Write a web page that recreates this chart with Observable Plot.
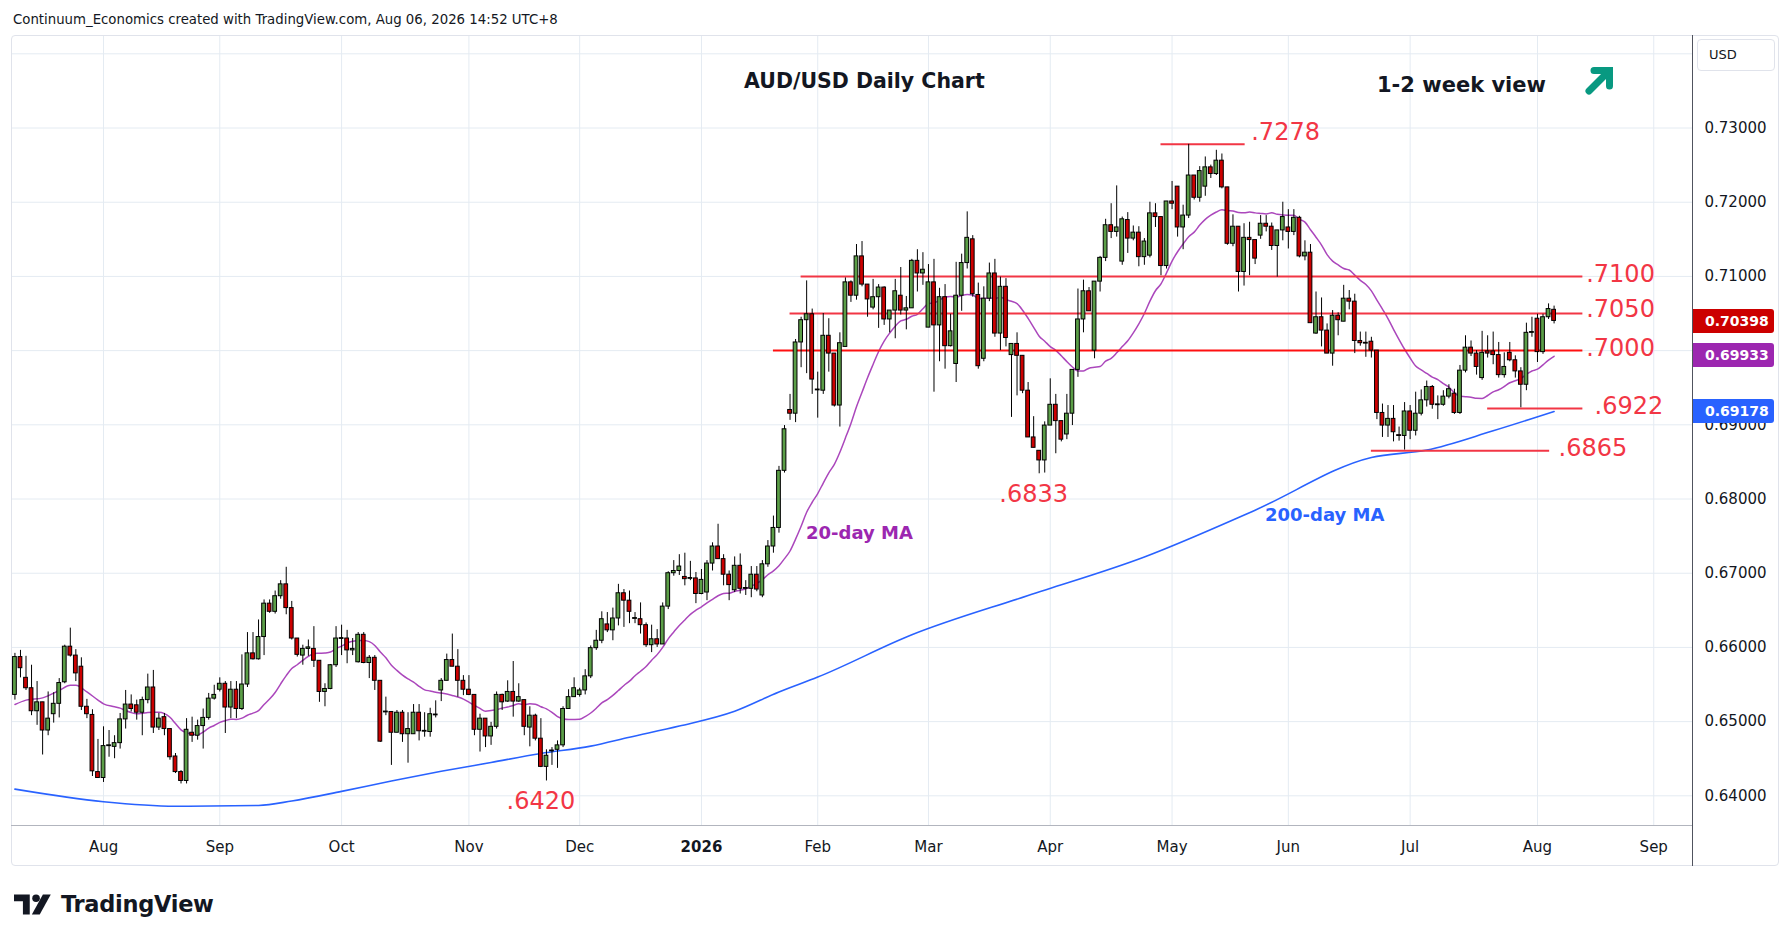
<!DOCTYPE html>
<html>
<head>
<meta charset="utf-8">
<script src="https://cdn.jsdelivr.net/npm/d3@7"></script>
<script src="https://cdn.jsdelivr.net/npm/@observablehq/plot@0.6"></script>
<style>
  html,body{margin:0;padding:0;background:#fff;}
  body{width:1792px;height:942px;position:relative;overflow:hidden;font-family:"DejaVu Sans",sans-serif;color:#131722;}
  .abs{position:absolute;white-space:nowrap;}
  #frame{position:absolute;left:11px;top:35px;width:1768px;height:831px;border:1px solid #e0e3eb;border-radius:4px;box-sizing:border-box;pointer-events:none;}
  .tag{position:absolute;left:1693px;width:81px;height:24px;color:#fff;font-weight:bold;font-size:14px;line-height:24px;padding-left:12px;box-sizing:border-box;border-radius:0 3px 3px 0;}
</style>
</head>
<body>
<div id="chart" class="abs" style="left:0;top:0"></div>
<div id="frame"></div>
<div class="abs" style="left:11px;top:825px;width:1681px;height:1px;background:#b2b5be"></div>
<div class="abs" style="left:1692px;top:35px;width:1px;height:831px;background:#50535e"></div>
<div class="abs" style="left:13px;top:11px;font-size:13.3px;line-height:17px;">Continuum_Economics created with TradingView.com, Aug 06, 2026 14:52 UTC+8</div>
<div class="abs" style="left:744px;top:66px;font-size:20.5px;line-height:30px;font-weight:bold;">AUD/USD Daily Chart</div>
<div class="abs" style="left:1377px;top:70px;font-size:21px;line-height:30px;font-weight:bold;">1-2 week view</div>
<svg class="abs" style="left:1583px;top:63px" width="34" height="34" viewBox="0 0 34 34">
  <path d="M6 28 L26 8" stroke="#089981" stroke-width="7" stroke-linecap="round" fill="none"/>
  <path d="M11 7.5 H26.5 V23" stroke="#089981" stroke-width="7" stroke-linecap="round" stroke-linejoin="miter" fill="none"/>
</svg>
<div class="abs" style="left:806px;top:520px;font-size:18px;line-height:26px;font-weight:bold;color:#9c27b0;">20-day MA</div>
<div class="abs" style="left:1265px;top:502px;font-size:18px;line-height:26px;font-weight:bold;color:#2962ff;">200-day MA</div>
<div class="abs" style="left:1697px;top:39px;width:78px;height:32px;border:1px solid #e0e3eb;border-radius:4px;box-sizing:border-box;font-size:13px;line-height:30px;padding-left:11px;">USD</div>
<div id="tags"></div>
<div class="abs" style="left:14px;top:891px;height:28px;">
  <svg width="42" height="26" viewBox="0 0 40 24" style="position:absolute;left:0;top:1px">
    <path d="M0 2 H15 V21 H8.5 V8.5 H0 Z" fill="#131722"/>
    <circle cx="21" cy="5.5" r="3.6" fill="#131722"/>
    <path d="M17 21 L27.5 2 H35 L24.5 21 Z" fill="#131722"/>
  </svg>
  <div style="position:absolute;left:47px;top:-1px;font-size:22.5px;font-weight:bold;line-height:28px;letter-spacing:-0.3px;">TradingView</div>
</div>
<script>
// ---------- DATA ----------
const startDate = "2025-07-10";            // first bar shown (index -16)
const firstIndex = -16;                    // bar index of first candle (Aug 1 2025 = 0)
const holidays = ["2025-12-25", "2026-01-01"];
const monthLabels = ["Aug","Sep","Oct","Nov","Dec","2026","Feb","Mar","Apr","May","Jun","Jul","Aug","Sep"];

const opens = [
 .6536,.6587,.6559,.6545,.6514,.6526,.6488,.6510,.6524,.6553,
 .6601,.6589,.6574,.6520,.6509,.6432,.6424,.6467,.6466,.6471,
 .6503,.6523,.6522,.6512,.6529,.6546,.6492,.6506,.6490,.6453,
 .6432,.6420,.6485,.6481,.6494,.6505,.6531,.6543,.6551,.6519,
 .6543,.6517,.6550,.6592,.6584,.6614,.6659,.6648,.6669,.6685,
 .6653,.6612,.6589,.6598,.6598,.6582,.6540,.6544,.6576,.6612,
 .6612,.6596,.6580,.6617,.6579,.6586,.6555,.6513,.6513,.6485,
 .6512,.6483,.6483,.6512,.6487,.6486,.6509,.6542,.6555,.6583,
 .6574,.6555,.6543,.6536,.6489,.6504,.6480,.6493,.6536,.6527,
 .6540,.6527,.6529,.6492,.6508,.6477,.6439,.6460,.6462,.6468,
 .6517,.6533,.6536,.6542,.6561,.6599,.6609,.6631,.6623,.6639,
 .6673,.6663,.6639,.6638,.6630,.6603,.6611,.6604,.6655,.6700,
 .6703,.6695,.6693,.6693,.6672,.6674,.6713,.6736,.6719,.6698,
 .6677,.6710,.6679,.6679,.6698,.6670,.6712,.6736,.6761,.6838,
 .6920,.6915,.7011,.7041,.7049,.6947,.6946,.7020,.6996,.6926,
 .7005,.7092,.7074,.7127,.7089,.7058,.7072,.7085,.7042,.7054,
 .7074,.7054,.7057,.7121,.7104,.7031,.7092,.7034,.7072,.7006,
 .6982,.7074,.7118,.7150,.7075,.6989,.7070,.7104,.7023,.7086,
 .6994,.7009,.6993,.6946,.6883,.6865,.6852,.6899,.6927,.6905,
 .6887,.6915,.6974,.7042,.7080,.7000,.7093,.7125,.7169,.7160,
 .7120,.7176,.7151,.7159,.7126,.7128,.7185,.7180,.7114,.7201,
 .7221,.7166,.7182,.7236,.7206,.7221,.7247,.7238,.7256,.7220,
 .7144,.7167,.7106,.7152,.7149,.7155,.7171,.7167,.7141,.7162,
 .7166,.7160,.7179,.7127,.7132,.7023,.7045,.7027,.6996,.7047,
 .7039,.7070,.7066,.7013,.7010,.7012,.7000,.6916,.6899,.6908,
 .6886,.6885,.6918,.6892,.6915,.6933,.6951,.6927,.6927,.6938,
 .6942,.6916,.6973,.7004,.6996,.6963,.6999,.6999,.6994,.6967,
 .6997,.6987,.6972,.6954,.7024,.7043,.6998,.7045,.7055
];
const highs = [
 .6592,.6596,.6588,.6576,.6554,.6526,.6540,.6539,.6558,.6603,
 .6626,.6597,.6586,.6530,.6516,.6476,.6493,.6488,.6481,.6511,
 .6542,.6536,.6529,.6533,.6564,.6569,.6511,.6511,.6490,.6457,
 .6434,.6504,.6506,.6502,.6517,.6538,.6549,.6559,.6554,.6554,
 .6554,.6590,.6620,.6620,.6637,.6664,.6664,.6676,.6690,.6708,
 .6662,.6612,.6603,.6610,.6628,.6582,.6551,.6577,.6628,.6630,
 .6623,.6612,.6620,.6620,.6589,.6589,.6555,.6533,.6513,.6515,
 .6515,.6512,.6523,.6523,.6512,.6518,.6528,.6558,.6591,.6618,
 .6597,.6562,.6562,.6536,.6510,.6504,.6499,.6540,.6537,.6555,
 .6581,.6551,.6529,.6520,.6510,.6504,.6462,.6465,.6474,.6520,
 .6543,.6559,.6545,.6570,.6602,.6623,.6648,.6647,.6653,.6685,
 .6678,.6676,.6647,.6660,.6633,.6630,.6624,.6660,.6702,.6717,
 .6725,.6727,.6716,.6701,.6705,.6717,.6741,.6766,.6725,.6703,
 .6722,.6726,.6690,.6709,.6709,.6717,.6744,.6777,.6844,.6899,
 .6941,.7015,.7045,.7094,.7056,.6971,.7050,.7043,.6996,.7024,
 .7098,.7094,.7143,.7147,.7089,.7096,.7089,.7086,.7054,.7096,
 .7112,.7073,.7123,.7136,.7132,.7116,.7123,.7084,.7089,.7049,
 .7119,.7130,.7187,.7155,.7091,.7086,.7118,.7123,.7099,.7097,
 .7009,.7024,.6993,.6957,.6911,.6865,.6904,.6962,.6941,.6905,
 .6941,.6974,.7083,.7095,.7085,.7093,.7127,.7177,.7198,.7222,
 .7180,.7186,.7168,.7167,.7151,.7200,.7198,.7180,.7201,.7228,
 .7221,.7196,.7278,.7236,.7248,.7261,.7250,.7270,.7265,.7220,
 .7183,.7167,.7171,.7173,.7149,.7182,.7182,.7172,.7162,.7200,
 .7190,.7190,.7181,.7148,.7143,.7079,.7071,.7036,.7054,.7051,
 .7088,.7081,.7076,.7025,.7025,.7018,.7000,.6928,.6926,.6926,
 .6897,.6930,.6926,.6944,.6947,.6959,.6953,.6939,.6946,.6954,
 .6948,.6980,.7020,.7013,.7000,.7026,.7020,.7025,.7011,.6997,
 .7011,.6993,.6977,.7037,.7045,.7049,.7049,.7063,.7060
];
const lows = [
 .6529,.6559,.6542,.6508,.6495,.6455,.6481,.6498,.6505,.6551,
 .6587,.6554,.6515,.6504,.6426,.6424,.6418,.6452,.6450,.6463,
 .6490,.6513,.6502,.6481,.6524,.6484,.6488,.6481,.6448,.6430,
 .6416,.6416,.6472,.6475,.6463,.6502,.6529,.6540,.6484,.6504,
 .6504,.6515,.6546,.6583,.6583,.6589,.6646,.6645,.6665,.6644,
 .6610,.6587,.6576,.6588,.6573,.6526,.6520,.6543,.6573,.6589,
 .6578,.6589,.6579,.6578,.6558,.6542,.6472,.6508,.6441,.6485,
 .6472,.6444,.6483,.6474,.6479,.6479,.6505,.6527,.6555,.6574,
 .6533,.6535,.6535,.6481,.6459,.6465,.6468,.6490,.6515,.6526,
 .6506,.6526,.6481,.6466,.6474,.6438,.6420,.6441,.6437,.6465,
 .6517,.6533,.6533,.6536,.6558,.6596,.6605,.6620,.6609,.6629,
 .6627,.6632,.6632,.6618,.6600,.6593,.6600,.6604,.6651,.6696,
 .6697,.6683,.6690,.6659,.6671,.6663,.6703,.6719,.6683,.6663,
 .6674,.6672,.6670,.6667,.6675,.6667,.6708,.6727,.6754,.6835,
 .6906,.6903,.6977,.6969,.6941,.6909,.6941,.6971,.6924,.6897,
 .7005,.7065,.7068,.7086,.7045,.7055,.7030,.7034,.7024,.7016,
 .7048,.7028,.7057,.7079,.7088,.7031,.6944,.6985,.6975,.7005,
 .6957,.7053,.7110,.7072,.6975,.6985,.7066,.7018,.7000,.7005,
 .6910,.6939,.6942,.6883,.6869,.6834,.6835,.6899,.6861,.6877,
 .6880,.6899,.6964,.7024,.7053,.6989,.7079,.7120,.7151,.7153,
 .7115,.7131,.7148,.7113,.7115,.7125,.7166,.7101,.7110,.7190,
 .7153,.7136,.7178,.7203,.7200,.7208,.7232,.7236,.7218,.7142,
 .7140,.7079,.7087,.7101,.7116,.7150,.7160,.7135,.7099,.7148,
 .7137,.7155,.7125,.7121,.7037,.7022,.7005,.6996,.6979,.7020,
 .7039,.7055,.6996,.7006,.6991,.6990,.6907,.6883,.6883,.6877,
 .6878,.6866,.6880,.6885,.6912,.6924,.6921,.6907,.6925,.6935,
 .6914,.6914,.6970,.6992,.6967,.6960,.6990,.6981,.6963,.6963,
 .6985,.6963,.6923,.6946,.7018,.6984,.6995,.7042,.7036
];
const closes = [
 .6587,.6572,.6545,.6514,.6526,.6488,.6504,.6524,.6552,.6601,
 .6589,.6565,.6520,.6510,.6433,.6424,.6467,.6468,.6471,.6503,
 .6523,.6517,.6512,.6529,.6546,.6492,.6504,.6490,.6452,.6432,
 .6420,.6489,.6481,.6494,.6505,.6531,.6536,.6551,.6519,.6543,
 .6517,.6550,.6592,.6584,.6614,.6659,.6648,.6669,.6685,.6653,
 .6612,.6590,.6598,.6600,.6582,.6540,.6544,.6576,.6612,.6612,
 .6596,.6598,.6617,.6579,.6586,.6555,.6473,.6513,.6485,.6512,
 .6483,.6490,.6512,.6487,.6487,.6510,.6509,.6555,.6583,.6574,
 .6555,.6543,.6536,.6489,.6504,.6480,.6493,.6536,.6526,.6540,
 .6527,.6533,.6493,.6508,.6477,.6439,.6454,.6461,.6468,.6517,
 .6533,.6545,.6542,.6561,.6599,.6609,.6638,.6623,.6639,.6673,
 .6663,.6648,.6639,.6630,.6603,.6611,.6604,.6655,.6700,.6703,
 .6709,.6692,.6693,.6672,.6691,.6713,.6736,.6719,.6698,.6684,
 .6710,.6679,.6680,.6698,.6678,.6712,.6736,.6761,.6838,.6894,
 .6915,.7011,.7041,.7049,.6961,.6947,.7020,.6996,.6926,.7010,
 .7092,.7074,.7127,.7089,.7069,.7072,.7085,.7042,.7054,.7080,
 .7054,.7057,.7121,.7104,.7109,.7092,.7034,.7072,.7006,.7026,
 .7074,.7118,.7152,.7076,.6979,.7070,.7104,.7023,.7086,.7017,
 .7009,.6993,.6946,.6883,.6869,.6852,.6899,.6927,.6905,.6880,
 .6915,.6974,.7042,.7080,.7053,.7093,.7125,.7169,.7160,.7166,
 .7177,.7151,.7159,.7126,.7147,.7185,.7180,.7114,.7201,.7198,
 .7166,.7182,.7236,.7206,.7242,.7247,.7238,.7256,.7220,.7144,
 .7167,.7106,.7152,.7149,.7124,.7171,.7167,.7141,.7162,.7180,
 .7160,.7179,.7127,.7132,.7037,.7045,.7027,.6996,.7047,.7041,
 .7070,.7066,.7013,.7010,.7010,.7000,.6916,.6899,.6908,.6890,
 .6885,.6918,.6892,.6915,.6933,.6951,.6927,.6927,.6938,.6948,
 .6916,.6973,.7004,.6996,.6978,.6997,.6996,.6994,.6967,.6978,
 .6987,.6972,.6954,.7024,.7025,.6998,.7045,.7056,.7040
];

// 20-day MA values for bars before enough closes exist
const maEarlyIdx = [-16, -14, -11, -8, -6, -5, -3, -1, 0, 2];
const maEarlyVal = [.6523, .6529, .6532, .6542, .6549, .6549, .6540, .6529, .6524, .6520];

// 200-day MA
const ma200Idx = [-16, 0, 13, 28, 34, 43, 52, 61, 70, 79, 88, 95, 104, 114, 122, 129, 146, 167, 188, 208, 229, 239, 251, 262];
const ma200Val = [.6409, .6392, .6386, .6387, .6393, .6406, .6420, .6433, .6445, .6457, .6467, .6479, .6494, .6514, .6540, .6560, .6617, .6670, .6722, .6785, .6856, .6866, .6892, .6918];

// Key levels
const levelValues = [0.7278, 0.7100, 0.7050, 0.7000, 0.6922, 0.6865];
const levelLabels = [".7278", ".7100", ".7050", ".7000", ".6922", ".6865"];
const lowValues = [0.6833, 0.6420];
const lowLabels = [".6833", ".6420"];
const lowBars = [169, 80];

// Price tags on the right axis
const tagValues = [0.70398, 0.69933, 0.69178];
const tagLabels = ["0.70398", "0.69933", "0.69178"];

// axis labels visible on the price scale (0.70000 sits under the price tags)
const yTickValues = [0.64, 0.65, 0.66, 0.67, 0.68, 0.69, 0.71, 0.72, 0.73];
const yGridValues = [0.64, 0.65, 0.66, 0.67, 0.68, 0.69, 0.70, 0.71, 0.72, 0.73, 0.74];

// ---------- LAYOUT (positions / styles) ----------
const levelLayout = [
  {from: 191, to: 206.2, at: 207.3, dy: -12, color: "#f23645"},
  {from: 126, to: 267.2, at: 267.8, dy: -2, color: "#f23645"},
  {from: 124, to: 267.2, at: 267.8, dy: -4, color: "#f23645"},
  {from: 121, to: 267.2, at: 267.8, dy: -2, color: "#ff1010"},
  {from: 250, to: 267.2, at: 269.3, dy: -2, color: "#f23645"},
  {from: 229, to: 261.2, at: 262.8, dy: -2, color: "#f23645"}
];
const tagColors = ["#cc0000", "#9c27b0", "#2962ff"];
const GREEN = "#5b9e47", RED = "#cc0000", LABEL_RED = "#f23645";

// ---------- BUILD ----------
function calendar(start, end, skip) {
  const out = [];
  const stop = new Date(end + "T00:00:00Z");
  for (let d = new Date(start + "T00:00:00Z"); d <= stop; d = new Date(d.getTime() + 864e5)) {
    const wd = d.getUTCDay();
    const iso = d.toISOString().slice(0, 10);
    if (wd === 0 || wd === 6 || skip.includes(iso)) continue;
    out.push(iso);
  }
  return out;
}
const days = calendar(startDate, "2026-09-30", holidays);
const monthTicks = [];
for (let k = 1; k < days.length; k++) {
  if (days[k].slice(0, 7) !== days[k - 1].slice(0, 7)) monthTicks.push(k + firstIndex);
}
const ticks = monthTicks.slice(0, monthLabels.length).map((i, k) => ({i, label: monthLabels[k]}));

const candles = opens.map((o, k) => ({i: k + firstIndex, date: days[k], o, h: highs[k], l: lows[k], c: closes[k]}));
const MINB = 0.00011;
candles.forEach(d => {
  let top = Math.max(d.o, d.c), bot = Math.min(d.o, d.c);
  if (top - bot < MINB) { const m = (top + bot) / 2; top = m + MINB / 2; bot = m - MINB / 2; }
  d.top = top; d.bot = bot; d.up = d.c >= d.o;
});
const up = candles.filter(d => d.up), down = candles.filter(d => !d.up);

const ma20 = maEarlyIdx.map((i, k) => ({i, v: maEarlyVal[k]}));
for (let j = 19; j < closes.length; j++) ma20.push({i: j + firstIndex, v: d3.mean(closes.slice(j - 19, j + 1))});
const ma200 = ma200Idx.map((i, k) => ({i, v: ma200Val[k]}));

const levels = levelValues.map((v, k) => ({v, label: levelLabels[k], ...levelLayout[k]}));
const lows2 = lowValues.map((v, k) => ({v, label: lowLabels[k], i: lowBars[k] - 1}));

const BW = 0.34;
const GRID = "#e4ebf2";
const chart = Plot.plot({
  width: 1792, height: 865,
  marginLeft: 11, marginRight: 100, marginTop: 35, marginBottom: 40,
  x: {type: "linear", domain: [-16.62, 287.0], axis: null},
  y: {type: "linear", domain: [0.63600, 0.74247], axis: null},
  style: {fontFamily: "DejaVu Sans", fontSize: "15px", color: "#131722", background: "none", maxWidth: "none"},
  marks: [
    Plot.ruleY(yGridValues, {stroke: GRID, strokeWidth: 1}),
    Plot.ruleX(ticks, {x: "i", stroke: GRID, strokeWidth: 1}),
    Plot.line(ma200, {x: "i", y: "v", stroke: "#2962ff", strokeWidth: 1.6, curve: "monotone-x", clip: true}),
    Plot.line(ma20, {x: "i", y: "v", stroke: "#ab47bc", strokeWidth: 1.5, curve: "monotone-x", clip: true}),
    ...levels.map(l => Plot.ruleY([l], {y: "v", x1: "from", x2: "to", stroke: l.color, strokeWidth: 2})),
    Plot.ruleX(candles, {x: "i", y1: "l", y2: "h", stroke: "#000", strokeWidth: 1, clip: true}),
    Plot.rect(up, {x1: d => d.i - BW, x2: d => d.i + BW, y1: "bot", y2: "top", fill: GREEN, stroke: "#000", strokeWidth: 1, clip: true}),
    Plot.rect(down, {x1: d => d.i - BW, x2: d => d.i + BW, y1: "bot", y2: "top", fill: RED, stroke: "#000", strokeWidth: 1, clip: true}),
    ...levels.map(l => Plot.text([l], {x: "at", y: "v", text: "label", dy: l.dy, fill: LABEL_RED, fontSize: 24, fontFamily: "DejaVu Sans", textAnchor: "start"})),
    Plot.text(lows2, {x: "i", y: "v", text: "label", dy: 20, fill: LABEL_RED, fontSize: 24, fontFamily: "DejaVu Sans", textAnchor: "middle"}),
    Plot.text(yTickValues, {y: d => d, text: d => d3.format(".5f")(d), frameAnchor: "right", dx: 12, textAnchor: "start", fill: "#131722", fontSize: 15}),
    Plot.text(ticks.filter(t => t.label !== "2026"), {x: "i", text: "label", frameAnchor: "bottom", dy: 26, fill: "#131722", fontSize: 15}),
    Plot.text(ticks.filter(t => t.label === "2026"), {x: "i", text: "label", frameAnchor: "bottom", dy: 26, fill: "#131722", fontSize: 15, fontWeight: "bold"})
  ]
});
document.getElementById("chart").appendChild(chart);

const ys = chart.scale("y");
const tagsDiv = document.getElementById("tags");
tagValues.forEach((v, k) => {
  const el = document.createElement("div");
  el.className = "tag";
  el.style.top = (ys.apply(v) - 12) + "px";
  el.style.background = tagColors[k];
  el.textContent = tagLabels[k];
  tagsDiv.appendChild(el);
});
</script>
</body>
</html>
